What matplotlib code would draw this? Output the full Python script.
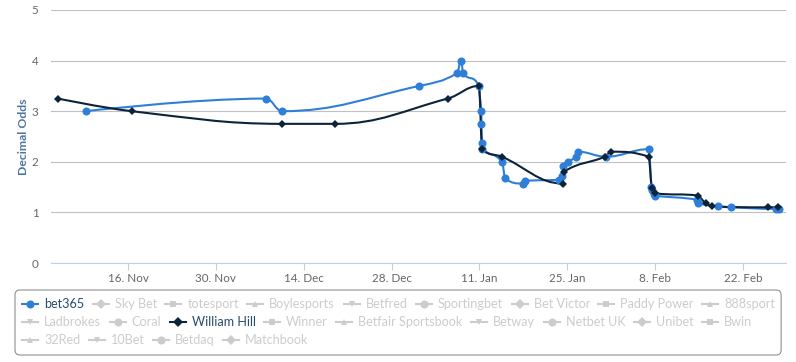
import numpy as np
import pandas as pd
import matplotlib
matplotlib.use('Agg')
import matplotlib.pyplot as plt
import matplotlib.dates as mdates
from matplotlib.path import Path
from matplotlib.patches import PathPatch, FancyBboxPatch
from matplotlib.lines import Line2D
from matplotlib.transforms import Affine2D

W, H = 796, 362
FONT = 'Lato'

# bet365 odds
bet365_dates = ['2015-11-09 07:00', '2015-12-08 00:00', '2015-12-10 13:00', '2016-01-01 10:00',
                '2016-01-07 10:00', '2016-01-08 02:00', '2016-01-08 10:00', '2016-01-10 22:00',
                '2016-01-11 07:00', '2016-01-11 08:00', '2016-01-11 10:00', '2016-01-11 11:00',
                '2016-01-14 14:00', '2016-01-15 02:00', '2016-01-17 22:00', '2016-01-18 07:00',
                '2016-01-23 17:00', '2016-01-24 05:00', '2016-01-24 07:00', '2016-01-25 02:00',
                '2016-01-26 10:00', '2016-01-26 17:00', '2016-01-31 05:00', '2016-02-07 00:00',
                '2016-02-07 10:00', '2016-02-07 12:00', '2016-02-07 19:00', '2016-02-08 00:00',
                '2016-02-14 17:00', '2016-02-14 22:00', '2016-02-18 02:00', '2016-02-20 02:00',
                '2016-02-27 07:00', '2016-02-27 17:00']
bet365_odds = [3.0, 3.25, 3.0, 3.5,
               3.75, 4.0, 3.75, 3.5,
               3.0, 2.75, 2.37, 2.25,
               2.0, 1.67, 1.57, 1.62,
               1.65, 1.72, 1.91, 2.0,
               2.1, 2.2, 2.1, 2.25,
               1.5, 1.44, 1.36, 1.33,
               1.25, 1.18, 1.12, 1.1,
               1.07, 1.07]

# William Hill odds
wh_dates = ['2015-11-04 20:00', '2015-11-16 15:00', '2015-12-10 13:00', '2015-12-18 23:00',
            '2016-01-05 23:00', '2016-01-10 22:00', '2016-01-11 10:00', '2016-01-14 14:00',
            '2016-01-24 07:00', '2016-01-24 10:00', '2016-01-31 00:00', '2016-02-01 00:00',
            '2016-02-07 00:00', '2016-02-07 12:00', '2016-02-08 00:00', '2016-02-14 22:00',
            '2016-02-16 02:00', '2016-02-17 02:00', '2016-02-26 00:00', '2016-02-27 14:00']
wh_odds = [3.25, 3.0, 2.75, 2.75,
           3.25, 3.5, 2.25, 2.1,
           1.57, 1.8, 2.1, 2.2,
           2.1, 1.48, 1.38, 1.33,
           1.18, 1.12, 1.1, 1.1]

tick_dates = ['2015-11-16', '2015-11-30', '2015-12-14', '2015-12-28',
              '2016-01-11', '2016-01-25', '2016-02-08', '2016-02-22']
tick_labels = ['16. Nov', '30. Nov', '14. Dec', '28. Dec',
               '11. Jan', '25. Jan', '8. Feb', '22. Feb']

legend_names = ['bet365', 'Sky Bet', 'totesport', 'Boylesports', 'Betfred', 'Sportingbet',
                'Bet Victor', 'Paddy Power', '888sport', 'Ladbrokes', 'Coral', 'William Hill',
                'Winner', 'Betfair Sportsbook', 'Betway', 'Netbet UK', 'Unibet', 'Bwin',
                '32Red', '10Bet', 'Betdaq', 'Matchbook']
visible = {'bet365': '#2f7ed8', 'William Hill': '#0d233a'}
symbols = ['o', 'D', 's', '^', 'v']


def spline_path(xs, ys, smoothing=1.5):
    # highcharts-like spline
    n = len(xs)
    lc = [(xs[i], ys[i]) for i in range(n)]
    rc = [(xs[i], ys[i]) for i in range(n)]
    d = smoothing + 1
    for i in range(1, n - 1):
        px, py = xs[i], ys[i]
        lx, ly = xs[i - 1], ys[i - 1]
        nx, ny = xs[i + 1], ys[i + 1]
        lcx = (smoothing * px + lx) / d
        lcy = (smoothing * py + ly) / d
        rcx = (smoothing * px + nx) / d
        rcy = (smoothing * py + ny) / d
        if rcx != lcx:
            corr = ((rcy - lcy) * (rcx - px)) / (rcx - lcx) + py - rcy
            lcy += corr
            rcy += corr
        if lcy > ly and lcy > py:
            lcy = max(ly, py)
            rcy = 2 * py - lcy
        elif lcy < ly and lcy < py:
            lcy = min(ly, py)
            rcy = 2 * py - lcy
        if rcy > ny and rcy > py:
            rcy = max(ny, py)
            lcy = 2 * py - rcy
        elif rcy < ny and rcy < py:
            rcy = min(ny, py)
            lcy = 2 * py - rcy
        lc[i] = (lcx, lcy)
        rc[i] = (rcx, rcy)
    verts = [(xs[0], ys[0])]
    codes = [Path.MOVETO]
    for i in range(1, n):
        verts += [rc[i - 1], lc[i], (xs[i], ys[i])]
        codes += [Path.CURVE4] * 3
    return Path(verts, codes)


fig = plt.figure(figsize=(W / 100, H / 100), dpi=100)
ax = fig.add_axes([51 / W, 1 - 263 / H, 735 / W, 253 / H])

series = [(bet365_dates, bet365_odds, '#2f7ed8', 'o', 5.8),
          (wh_dates, wh_odds, '#0d233a', 'D', 4.2)]
for dates, odds, col, mk, ms in series:
    xs = mdates.date2num(pd.to_datetime(dates))
    ax.add_patch(PathPatch(spline_path(list(xs), list(odds)), facecolor='none',
                           edgecolor=col, lw=1.5, zorder=3, capstyle='round', joinstyle='round'))
    ax.plot(xs, odds, linestyle='none', marker=mk, ms=ms, color=col, mew=0, zorder=4)

ax.set_xlim(mdates.date2num(pd.Timestamp('2015-11-03 17:00')),
            mdates.date2num(pd.Timestamp('2016-02-28 21:00')))
ax.set_ylim(0, 5)
ax.set_yticks(range(6))
ax.set_xticks(mdates.date2num(pd.to_datetime(tick_dates)))
ax.set_xticklabels(tick_labels)
ax.grid(axis='y', color='#c0c0c0', lw=0.8)
ax.set_axisbelow(True)
for s in ['top', 'right', 'left']:
    ax.spines[s].set_visible(False)
ax.spines['bottom'].set_color('#c0d0e0')
ax.spines['bottom'].set_linewidth(0.8)
ax.spines['bottom'].set_zorder(2)
ax.tick_params(axis='x', color='#c0d0e0', length=5, width=0.8, labelcolor='#666666',
               labelsize=8.4, pad=2)
ax.tick_params(axis='y', length=0, labelcolor='#666666', labelsize=8.4, pad=9)
for lab in ax.get_xticklabels() + ax.get_yticklabels():
    lab.set_fontfamily(FONT)
ax.set_ylabel('Decimal Odds', color='#4d759e', fontsize=8.8, fontweight='bold',
              fontfamily=FONT, labelpad=2)

# legend (flow layout, pixel coordinates from top-left)
PX = Affine2D().scale(1, -1).translate(0, H)
renderer = fig.canvas.get_renderer()
x0, row_y, row_h = 22, 304, 18
x, y = x0, row_y
max_right = 0
for i, name in enumerate(legend_names):
    col = visible.get(name, '#cccccc')
    tcol = '#274b6d' if name in visible else '#cccccc'
    t = fig.text(0, 0, name, transform=PX, fontsize=9.1, color=tcol, fontfamily=FONT,
                 va='center', ha='left')
    tw = t.get_window_extent(renderer).width
    item_w = 16 + 6 + tw
    if x + item_w > 777 and x > x0:
        x = x0
        y += row_h
    t.set_position((x + 22, y))
    fig.add_artist(Line2D([x, x + 16], [y, y], transform=PX, color=col, lw=1.5))
    fig.add_artist(Line2D([x + 8], [y], transform=PX, marker=symbols[i % 5], color=col,
                          ms=5.8 if symbols[i % 5] == 'o' else 4.6, mew=0))
    max_right = max(max_right, x + item_w)
    x += item_w + 8.5

box = FancyBboxPatch((15, 290), max_right + 6 - 15, y + 15 - 290, transform=PX,
                     boxstyle='round,pad=0,rounding_size=5', facecolor='none',
                     edgecolor='#909090', lw=0.8)
fig.add_artist(box)

fig.savefig('out.png', dpi=100)
